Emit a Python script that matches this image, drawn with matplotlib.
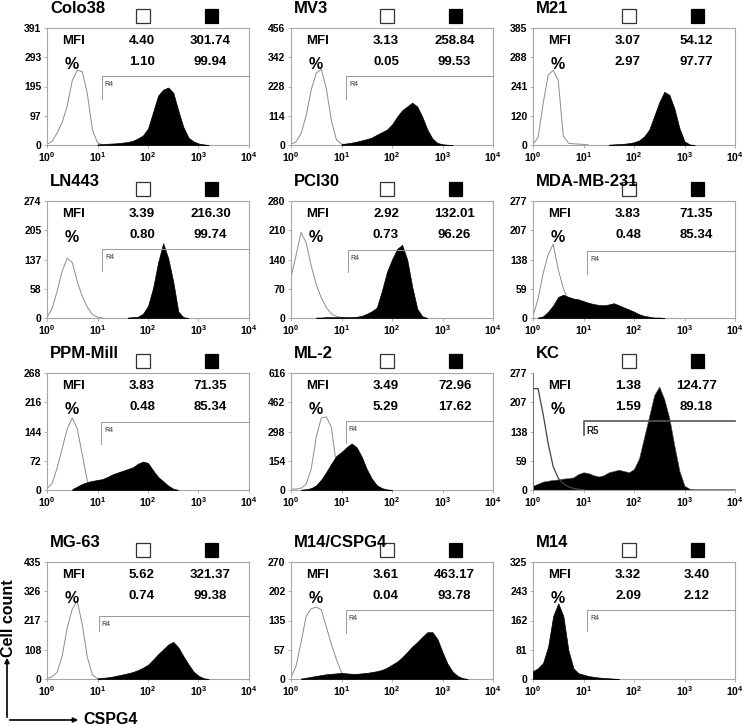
import matplotlib
matplotlib.use('Agg')
import matplotlib.pyplot as plt
import numpy as np
from matplotlib.patches import Rectangle, FancyArrowPatch

plt.rcParams['font.family'] = ['Liberation Sans', 'DejaVu Sans']
plt.rcParams['font.weight'] = 'bold'
plt.rcParams['mathtext.fontset'] = 'custom'
plt.rcParams['mathtext.rm'] = 'Liberation Sans'
plt.rcParams['mathtext.bf'] = 'Liberation Sans:bold'

# Panel info, row by row
names = ['Colo38', 'MV3', 'M21',
         'LN443', 'PCI30', 'MDA-MB-231',
         'PPM-Mill', 'ML-2', 'KC',
         'MG-63', 'M14/CSPG4', 'M14']
mfi_open = ['4.40', '3.13', '3.07', '3.39', '2.92', '3.83',
            '3.83', '3.49', '1.38', '5.62', '3.61', '3.32']
mfi_filled = ['301.74', '258.84', '54.12', '216.30', '132.01', '71.35',
              '71.35', '72.96', '124.77', '321.37', '463.17', '3.40']
pct_open = ['1.10', '0.05', '2.97', '0.80', '0.73', '0.48',
            '0.48', '5.29', '1.59', '0.74', '0.04', '2.09']
pct_filled = ['99.94', '99.53', '97.77', '99.74', '96.26', '85.34',
              '85.34', '17.62', '89.18', '99.38', '93.78', '2.12']
ymax = [391, 456, 385, 274, 280, 277, 268, 616, 277, 435, 270, 325]
ytick_labels = [
    ['0', '97', '195', '293', '391'],
    ['0', '114', '228', '342', '456'],
    ['0', '120', '241', '288', '385'],
    ['0', '58', '137', '205', '274'],
    ['0', '70', '140', '210', '280'],
    ['0', '59', '138', '207', '277'],
    ['0', '72', '144', '216', '268'],
    ['0', '154', '298', '462', '616'],
    ['0', '59', '138', '207', '277'],
    ['0', '108', '217', '326', '435'],
    ['0', '57', '135', '202', '270'],
    ['0', '81', '162', '243', '325'],
]
# gate: start (log10 of x), level and drop end (fraction of the y range)
gate_name = ['R4', 'R4', None, 'R4', 'R4', 'R4', 'R4', 'R4', 'R5', 'R4', 'R4', 'R4']
gate_x = [1.08, 1.09, 0, 1.09, 1.12, 1.07, 1.07, 1.08, 1.0, 1.02, 1.08, 1.07]
gate_level = [0.59, 0.59, 0, 0.587, 0.58, 0.574, 0.58, 0.59, 0.594, 0.54, 0.586, 0.59]
gate_drop = [0.395, 0.395, 0, 0.40, 0.39, 0.38, 0.39, 0.40, 0.47, 0.41, 0.39, 0.41]

# histogram counts, one value per 0.1 decade, from the given start (log10)
colo38_open = [2, 12, 40, 75, 130, 215, 250, 245, 170, 50, 8, 0]
colo38_fill = [2, 3, 4, 5, 6, 8, 10, 14, 22, 32, 55, 110, 165, 185, 192,
               175, 115, 60, 25, 12, 5, 2, 0]
mv3_open = [3, 12, 45, 115, 215, 280, 295, 220, 95, 20, 4, 0]
mv3_fill = [4, 6, 9, 13, 18, 23, 29, 40, 50, 60, 80, 110, 135, 150, 165,
            150, 110, 60, 25, 8, 3, 1, 0]
m21_open = [3, 24, 135, 230, 246, 213, 30, 6, 4, 3, 2, 0]
m21_fill = [1, 2, 3, 4, 6, 9, 15, 28, 50, 95, 140, 175, 165, 120, 55, 12, 2, 0]
ln443_open = [2, 22, 62, 110, 140, 130, 85, 50, 25, 8, 2, 0]
ln443_fill = [1, 2, 3, 10, 28, 70, 130, 175, 140, 85, 15, 2, 0]
pci30_open = [97, 150, 205, 180, 125, 80, 48, 25, 10, 4, 1, 0]
pci30_fill = [1, 1, 2, 2, 2, 2, 2, 2, 3, 5, 10, 16, 25, 65, 110, 140, 165,
              175, 140, 75, 22, 4, 0]
mda_open = [5, 45, 105, 150, 175, 115, 70, 40, 18, 5, 1, 0]
mda_fill = [1, 4, 15, 30, 50, 55, 50, 46, 44, 40, 36, 33, 31, 30, 32, 35,
            30, 25, 20, 15, 9, 5, 3, 1, 1, 0]
ppm_open = [3, 15, 50, 95, 140, 165, 140, 80, 20, 4, 1, 0]
ppm_fill = [2, 8, 14, 18, 21, 23, 25, 30, 36, 40, 44, 48, 52, 60, 65, 62,
            45, 30, 20, 10, 3, 0]
ml2_open = [4, 5, 10, 30, 110, 280, 380, 385, 330, 130, 20, 3, 0]
ml2_fill = [2, 4, 10, 25, 55, 95, 140, 180, 200, 225, 245, 225, 175, 110,
            60, 25, 10, 3, 0]
kc_open = [240, 240, 180, 110, 55, 28, 15, 8, 4, 2, 0]
kc_fill = [10, 15, 20, 22, 24, 25, 27, 28, 30, 38, 42, 40, 35, 32, 35, 42,
           45, 48, 45, 42, 50, 75, 125, 175, 225, 245, 215, 170, 105, 45,
           10, 3, 2, 2, 2, 2, 2, 2, 2, 2, 2]
mg63_open = [2, 8, 25, 85, 190, 260, 290, 200, 80, 15, 2, 0]
mg63_fill = [2, 4, 6, 9, 13, 17, 21, 26, 33, 42, 53, 72, 92, 110, 128, 138,
             118, 85, 55, 28, 12, 3, 0]
m14c_open = [4, 30, 85, 145, 162, 166, 160, 120, 80, 45, 15, 2, 0]
m14c_fill = [1, 3, 5, 7, 9, 11, 12, 13, 14, 13, 12, 12, 13, 14, 16, 18, 21,
             26, 33, 40, 50, 62, 75, 85, 97, 108, 108, 92, 62, 35, 17, 7, 2, 0]
m14_open = [15, 22, 35, 70, 140, 170, 140, 60, 22, 10, 7, 4, 2, 1, 0]
m14_fill = [22, 30, 45, 90, 175, 210, 175, 80, 30, 16, 12, 8, 6, 4, 3, 2, 1, 0]

open_curves = [colo38_open, mv3_open, m21_open, ln443_open, pci30_open, mda_open,
               ppm_open, ml2_open, kc_open, mg63_open, m14c_open, m14_open]
open_start = [0.0] * 12
fill_curves = [colo38_fill, mv3_fill, m21_fill, ln443_fill, pci30_fill, mda_fill,
               ppm_fill, ml2_fill, kc_fill, mg63_fill, m14c_fill, m14_fill]
fill_start = [1.0, 1.0, 1.5, 1.6, 0.5, 0.1, 0.5, 0.2, 0.0, 1.0, 0.2, 0.0]

W, H = 750, 726
fig = plt.figure(figsize=(W / 100, H / 100), dpi=100)

col_left = [47, 291, 533]
ax_w = 202
row_top = [28, 201, 373, 562]
ax_h = 117
spine_col = '#a6a6a6'


def log_x(start, n):
    return 10 ** np.round(start + 0.1 * np.arange(n), 2)


for i, name in enumerate(names):
    r, c = divmod(i, 3)
    ax = fig.add_axes([col_left[c] / W, 1 - (row_top[r] + ax_h) / H, ax_w / W, ax_h / H])
    ax.set_xscale('log')
    ax.set_xlim(1, 1e4)
    ax.set_ylim(0, ymax[i])

    xo = log_x(open_start[i], len(open_curves[i]))
    xf = log_x(fill_start[i], len(fill_curves[i]))
    if name == 'KC':
        ax.fill_between(xf, fill_curves[i], color='black', lw=0.4, edgecolor='#555555',
                        zorder=2)
        ax.plot(xo, open_curves[i], color='#444444', lw=0.9, zorder=3)
    else:
        ax.plot(xo, open_curves[i], color='#8c8c8c', lw=0.7, zorder=2)
        ax.fill_between(xf, fill_curves[i], color='black', lw=0.5, edgecolor='black',
                        zorder=3)

    # gate marker
    if gate_name[i]:
        tr = ax.get_xaxis_transform()
        gx = 10 ** gate_x[i]
        gcol = '#555555' if name == 'KC' else '#9a9a9a'
        glw = 1.2 if name == 'KC' else 0.7
        ax.plot([gx, gx, 1e4], [gate_drop[i], gate_level[i], gate_level[i]],
                color=gcol, lw=glw, transform=tr, clip_on=False, zorder=4)
        if name == 'KC':
            ax.text(gx * 1.15, gate_level[i] - 0.05, gate_name[i], transform=tr,
                    fontsize=7, fontweight='bold', va='top', color='#222222')
        else:
            ax.text(gx * 1.15, gate_level[i] - 0.04, gate_name[i], transform=tr,
                    fontsize=5, fontweight='normal', va='top', color='#333333')

    # ticks
    ax.set_xticks([1, 10, 100, 1000, 10000])
    ax.set_xticklabels([r'$\mathbf{10^{%d}}$' % k for k in range(5)])
    ax.minorticks_off()
    ax.set_yticks(np.linspace(0, ymax[i], 5))
    ax.set_yticklabels(ytick_labels[i])
    ax.tick_params(axis='both', length=2.5, width=0.6, color=spine_col,
                   labelsize=7.5, pad=1.5)
    for lab in ax.get_yticklabels():
        lab.set_fontweight('bold')

    for s in ax.spines.values():
        s.set_color(spine_col)
        s.set_linewidth(0.8)
    if name == 'KC':
        ax.spines['top'].set_visible(False)
        ax.spines['right'].set_visible(False)
        ax.spines['left'].set_color('#777777')

    # labels and stats
    t = ax.transAxes
    ax.text(0.015, 1.165, name, transform=t, fontsize=12, fontweight='bold',
            va='center', ha='left')
    ax.add_patch(Rectangle((0.44, 1.04), 0.068, 0.125, transform=t, clip_on=False,
                           facecolor='white', edgecolor='#333333', lw=0.9))
    ax.add_patch(Rectangle((0.78, 1.04), 0.068, 0.125, transform=t, clip_on=False,
                           facecolor='black', edgecolor='black', lw=0.9))
    ax.text(0.13, 0.89, 'MFI', transform=t, fontsize=9.5, fontweight='bold',
            ha='center', va='center')
    ax.text(0.12, 0.69, '%', transform=t, fontsize=11.5, fontweight='bold',
            ha='center', va='center')
    ax.text(0.47, 0.89, mfi_open[i], transform=t, fontsize=9.5, fontweight='bold',
            ha='center', va='center')
    ax.text(0.81, 0.89, mfi_filled[i], transform=t, fontsize=9.5, fontweight='bold',
            ha='center', va='center')
    ax.text(0.47, 0.71, pct_open[i], transform=t, fontsize=9.5, fontweight='bold',
            ha='center', va='center')
    ax.text(0.81, 0.71, pct_filled[i], transform=t, fontsize=9.5, fontweight='bold',
            ha='center', va='center')

# axis key, bottom left
x0, y0 = 7 / W, 1 - 720 / H
fig.add_artist(FancyArrowPatch((x0, y0), (x0, 1 - 655 / H), transform=fig.transFigure,
                               arrowstyle='-|>', mutation_scale=7, lw=1.2, color='black'))
fig.add_artist(FancyArrowPatch((x0, y0), (81 / W, y0), transform=fig.transFigure,
                               arrowstyle='-|>', mutation_scale=7, lw=1.2, color='black'))
fig.text(9 / W, 1 - 618 / H, 'Cell count', rotation=90, fontsize=11.5, fontweight='bold',
         ha='center', va='center')
fig.text(83 / W, y0, 'CSPG4', fontsize=11.5, fontweight='bold', ha='left', va='center')

fig.savefig('out.png', dpi=100)
